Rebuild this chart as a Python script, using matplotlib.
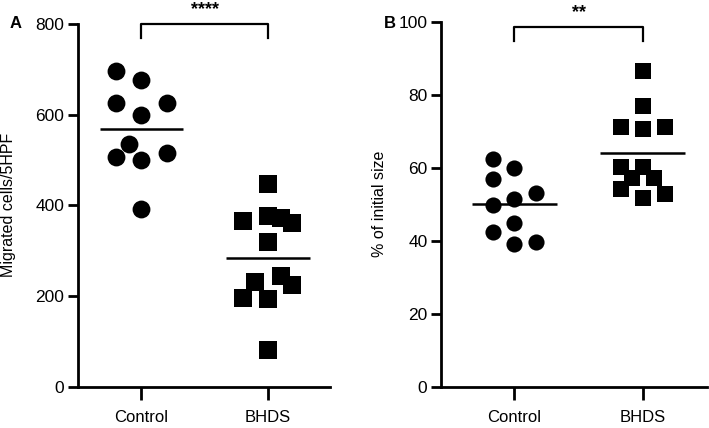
import numpy as np
import matplotlib
matplotlib.use("Agg")
import matplotlib.pyplot as plt

plt.rcParams['font.family'] = ['Liberation Sans', 'DejaVu Sans']

groups = ["Control", "BHDS"]

# panel A: migrated cells / 5HPF
a_control = [697, 676, 626, 626, 599, 536, 506, 499, 516, 392]
a_control_jit = [-0.2, 0, -0.2, 0.2, 0, -0.1, -0.2, 0, 0.2, 0]
a_bhds = [447, 366, 376, 372, 362, 319, 245, 225, 230, 195, 193, 81]
a_bhds_jit = [0, -0.2, 0, 0.1, 0.19, 0, 0.1, 0.19, -0.1, -0.2, 0, 0]

# panel B: % of initial size
b_control = [62.3, 59.8, 56.8, 53.0, 51.4, 49.8, 44.9, 42.5, 39.0, 39.7]
b_control_jit = [-0.17, 0, -0.17, 0.17, 0, -0.17, 0, -0.17, 0, 0.17]
b_bhds = [86.5, 76.9, 71.1, 70.6, 71.1, 60.1, 60.1, 57.1, 57.1, 54.1, 51.6, 52.7]
b_bhds_jit = [0, 0, -0.17, 0, 0.17, -0.17, 0, -0.085, 0.085, -0.17, 0, 0.17]

fig = plt.figure(figsize=(7.09, 4.28), dpi=100)
axA = fig.add_axes([0.110, 0.0965, 0.3555, 0.8475])
axB = fig.add_axes([0.6224, 0.0965, 0.3748, 0.853])


def style(ax, ylim, yticks, ylabel, xlim):
    ax.set_xlim(*xlim)
    ax.set_ylim(*ylim)
    ax.set_yticks(yticks)
    ax.set_xticks([1, 2])
    ax.set_xticklabels(groups)
    ax.spines['top'].set_visible(False)
    ax.spines['right'].set_visible(False)
    for s in ['left', 'bottom']:
        ax.spines[s].set_linewidth(2)
    ax.tick_params(axis='y', length=7, width=2, labelsize=12.5, pad=3)
    ax.tick_params(axis='x', length=9, width=2, labelsize=12, pad=7.5)
    ax.set_ylabel(ylabel, fontsize=11.5)


def draw(ax, ctrl, cjit, bh, bjit, cs, bs):
    ax.scatter(1 + np.array(cjit), ctrl, s=cs, marker='o', color='black',
               linewidths=0, clip_on=False, zorder=3)
    ax.scatter(2 + np.array(bjit), bh, s=bs, marker='s', color='black',
               linewidths=0, clip_on=False, zorder=3)
    ax.hlines(np.mean(ctrl), 1 - 0.33, 1 + 0.33, color='black', lw=1.8, zorder=4)
    ax.hlines(np.mean(bh), 2 - 0.33, 2 + 0.33, color='black', lw=1.8, zorder=4)


draw(axA, a_control, a_control_jit, a_bhds, a_bhds_jit, 165, 150)
style(axA, (0, 800), [0, 200, 400, 600, 800], "Migrated cells/5HPF", (0.5, 2.49))
axA.plot([1, 1, 2, 2], [768, 800, 800, 768], color='black', lw=1.6, clip_on=False)
axA.text(1.5, 832, "****", ha='center', va='center', fontsize=13,
         fontweight='bold', clip_on=False)
axA.yaxis.set_label_coords(-0.245, 0.5)

draw(axB, b_control, b_control_jit, b_bhds, b_bhds_jit, 135, 118)
style(axB, (0, 100), [0, 20, 40, 60, 80, 100], "% of initial size", (0.43, 2.5))
axB.plot([1, 1, 2, 2], [94.6, 98.6, 98.6, 94.6], color='black', lw=1.6, clip_on=False)
axB.text(1.5, 102.6, "**", ha='center', va='center', fontsize=13,
         fontweight='bold', clip_on=False)
axB.yaxis.set_label_coords(-0.205, 0.5)

fig.text(10 / 709, 1 - 24 / 428, "A", fontsize=12, fontweight='bold', ha='left', va='center')
fig.text(384 / 709, 1 - 24 / 428, "B", fontsize=12, fontweight='bold', ha='left', va='center')

fig.savefig("out.png", dpi=100)
